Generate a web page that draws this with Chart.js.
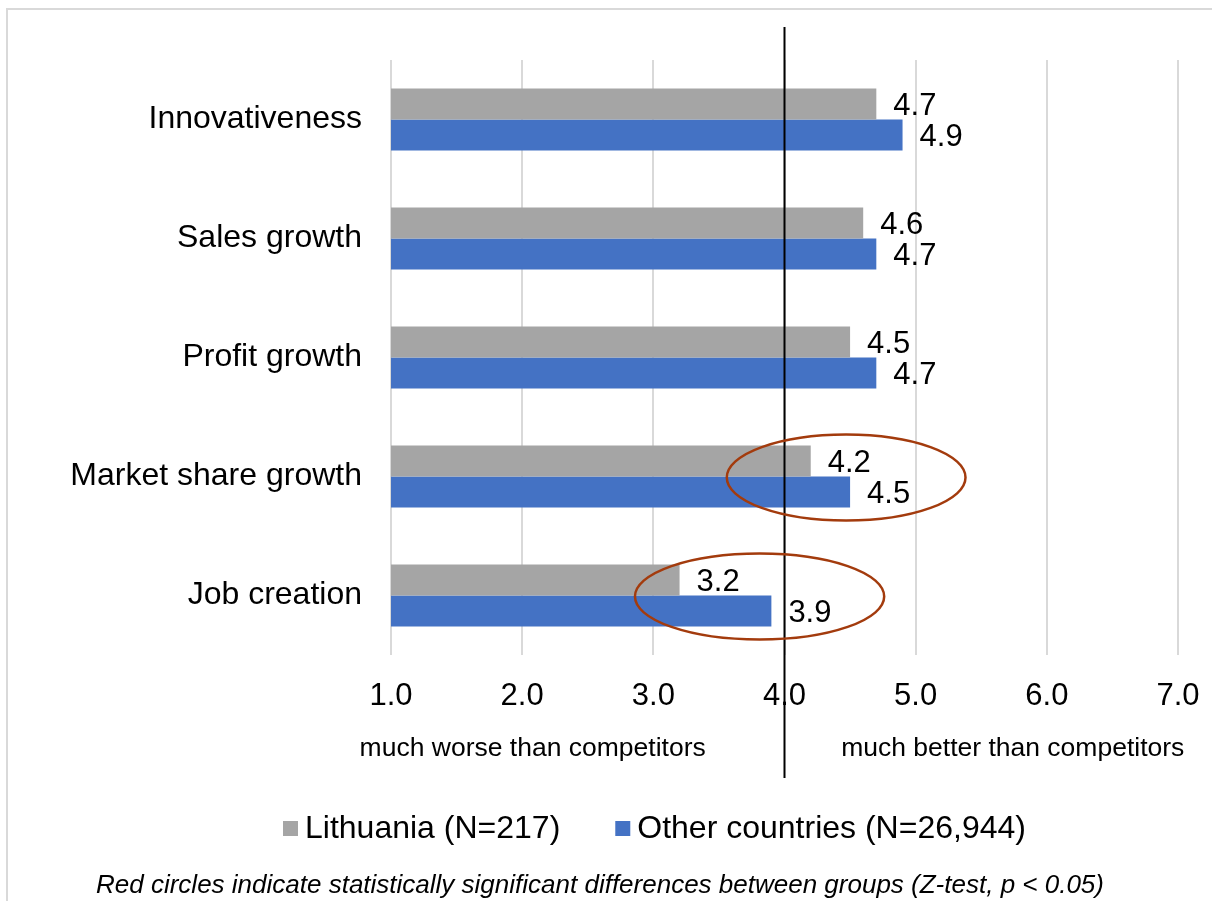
<!DOCTYPE html>
<html>
<head>
<meta charset="utf-8">
<script src="https://cdn.jsdelivr.net/npm/chart.js@4/dist/chart.umd.min.js"></script>
<style>
  html, body { margin: 0; padding: 0; background: #fff; }
  #wrap { width: 1212px; height: 901px; position: relative; }
</style>
</head>
<body>
<div id="wrap"><canvas id="chart" width="1212" height="901"></canvas></div>
<script>
// Performance indicators compared with competitors (1 = much worse, 7 = much better)
const categories = ['Innovativeness', 'Sales growth', 'Profit growth', 'Market share growth', 'Job creation'];
const lithuania = [4.7, 4.6, 4.5, 4.2, 3.2];
const otherCountries = [4.9, 4.7, 4.7, 4.5, 3.9];
const seriesNames = ['Lithuania (N=217)', 'Other countries (N=26,944)'];
const xTicks = [1, 2, 3, 4, 5, 6, 7];
const scaleNotes = ['much worse than competitors', 'much better than competitors'];
const footnote = 'Red circles indicate statistically significant differences between groups (Z-test, p < 0.05)';
// categories whose group difference is significant
const significant = ['Market share growth', 'Job creation'];

const FONT = "'Liberation Sans', Arial, sans-serif";
Chart.defaults.font.family = FONT;
Chart.defaults.color = '#000';

// ellipse placement for each highlighted category (x centre and half-width in scale units)
const ellipseSpec = {
  'Market share growth': { centre: 4.47, half: 0.91 },
  'Job creation': { centre: 3.81, half: 0.95 }
};

const decor = {
  id: 'decor',
  beforeDraw(chart) {
    const ctx = chart.ctx;
    ctx.save();
    ctx.fillStyle = '#fff';
    ctx.fillRect(0, 0, chart.width, chart.height);
    // outer frame (top and left edges)
    ctx.strokeStyle = '#d9d9d9';
    ctx.lineWidth = 2;
    ctx.beginPath();
    ctx.moveTo(7, chart.height);
    ctx.lineTo(7, 9);
    ctx.lineTo(chart.width, 9);
    ctx.stroke();
    ctx.restore();
  },
  afterDatasetsDraw(chart) {
    const ctx = chart.ctx;
    const xs = chart.scales.x;
    const ys = chart.scales.y;
    ctx.save();
    // value labels beside each bar
    ctx.font = '31px ' + FONT;
    ctx.fillStyle = '#000';
    ctx.textAlign = 'left';
    ctx.textBaseline = 'middle';
    chart.data.datasets.forEach((ds, di) => {
      chart.getDatasetMeta(di).data.forEach((bar, i) => {
        ctx.fillText(ds.data[i].toFixed(1), bar.x + 17, bar.y + 2);
      });
    });

    // neutral midpoint line at 4
    const x4 = xs.getPixelForValue(4);
    ctx.strokeStyle = '#000';
    ctx.lineWidth = 2;
    ctx.beginPath();
    ctx.moveTo(x4, 27);
    ctx.lineTo(x4, 778);
    ctx.stroke();

    // scale end descriptions
    ctx.font = '26.5px ' + FONT;
    ctx.textAlign = 'center';
    ctx.fillText(scaleNotes[0], xs.getPixelForValue(2.08), 749);
    ctx.fillText(scaleNotes[1], xs.getPixelForValue(5.74), 749);

    // ellipses around significant differences
    ctx.strokeStyle = '#a33b0d';
    ctx.lineWidth = 2.5;
    significant.forEach(name => {
      const i = categories.indexOf(name);
      const spec = ellipseSpec[name];
      const cx = xs.getPixelForValue(spec.centre);
      const cy = ys.getPixelForValue(i) + 1;
      const rx = xs.getPixelForValue(1 + spec.half) - xs.getPixelForValue(1);
      ctx.beginPath();
      ctx.ellipse(cx, cy, rx, 43, 0, 0, Math.PI * 2);
      ctx.stroke();
    });

    // legend
    ctx.font = '32px ' + FONT;
    ctx.textAlign = 'left';
    let lx = 283;
    const ly = 829;
    chart.data.datasets.forEach((ds) => {
      ctx.fillStyle = ds.backgroundColor;
      ctx.fillRect(lx, ly - 8, 15, 15);
      ctx.fillStyle = '#000';
      ctx.fillText(ds.label, lx + 22, ly);
      lx += 22 + ctx.measureText(ds.label).width + 55;
    });

    // footnote
    ctx.font = 'italic 26px ' + FONT;
    ctx.textAlign = 'center';
    ctx.fillText(footnote, 600, 886);
    ctx.restore();
  }
};

new Chart(document.getElementById('chart'), {
  type: 'bar',
  data: {
    labels: categories,
    datasets: [
      { label: seriesNames[0], data: lithuania, backgroundColor: '#a5a5a5' },
      { label: seriesNames[1], data: otherCountries, backgroundColor: '#4472c4' }
    ]
  },
  options: {
    indexAxis: 'y',
    responsive: false,
    animation: false,
    devicePixelRatio: 1,
    categoryPercentage: 0.52,
    barPercentage: 1.0,
    layout: { padding: { top: 60, right: 34, left: 0, bottom: 0 } },
    plugins: { legend: { display: false }, tooltip: { enabled: false } },
    scales: {
      x: {
        min: 1, max: 7,
        afterBuildTicks(scale) { scale.ticks = xTicks.map(v => ({ value: v })); },
        afterFit(scale) {
          scale.height = 246;
          scale.paddingLeft = 0;
          scale.paddingRight = 0;
        },
        ticks: {
          font: { size: 31 },
          color: '#000',
          padding: 23,
          maxRotation: 0,
          callback: v => Number(v).toFixed(1)
        },
        grid: { color: '#d9d9d9', lineWidth: 2, drawTicks: false },
        border: { display: false }
      },
      y: {
        afterFit(scale) {
          scale.width = 391;
          scale.paddingTop = 0;
          scale.paddingBottom = 0;
        },
        ticks: { font: { size: 32 }, color: '#000', padding: 29 },
        grid: { display: false, drawTicks: false },
        border: { display: false }
      }
    }
  },
  plugins: [decor]
});
</script>
</body>
</html>
